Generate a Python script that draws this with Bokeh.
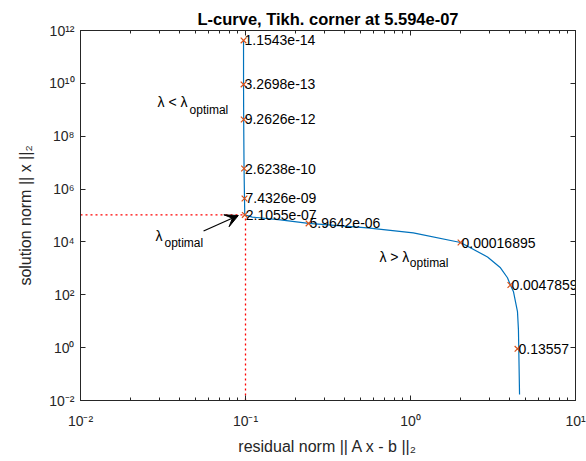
from bokeh.plotting import figure
from bokeh.models import (LogAxis, FixedTicker, CustomJSTickFormatter, Arrow,
                          VeeHead, ColumnDataSource)
from bokeh.core.properties import value
from bokeh.embed import file_html
from bokeh.resources import INLINE

# ---- data ----
curve_rho = [0.0973, 0.0973, 0.0975, 0.0980, 0.0986, 0.0990, 0.110, 0.163, 0.241,
             0.548, 1.04, 2.01, 2.93, 3.51, 3.87, 4.03, 4.21, 4.45, 4.51, 4.53, 4.58]
curve_eta = [4.2e11, 9.1e9, 4.3e8, 6.0e6, 4.4e5, 1.05e5, 8.7e4, 6.8e4, 5.0e4,
             3.4e4, 2.2e4, 9.5e3, 2.7e3, 1.05e3, 440, 235, 130, 23, 4.8, 1.0, 0.017]

mark_rho = [0.0973, 0.0973, 0.0975, 0.0980, 0.0986, 0.0990, 0.241, 2.01, 4.03, 4.45]
mark_eta = [4.2e11, 9.1e9, 4.3e8, 6.0e6, 4.4e5, 1.05e5, 5.0e4, 9.5e3, 235, 0.9]
mark_lab = ["1.1543e-14", "3.2698e-13", "9.2626e-12", "2.6238e-10", "7.4326e-09",
            "2.1055e-07", "5.9642e-06", "0.00016895", "0.0047859", "0.13557"]

corner_rho = 0.1
corner_eta = 1.05e5
reg_corner = "5.594e-07"

x_ticks = [1e-2, 1e-1, 1e0, 1e1]
x_minor = [m * d for d in (1e-2, 1e-1, 1e0) for m in range(2, 10)]
y_ticks = [1e-2, 1e0, 1e2, 1e4, 1e6, 1e8, 1e10, 1e12]

FONT = "Liberation Sans"
AXC = "#262626"

p = figure(width=586, height=461, x_axis_type="log", y_axis_type="log",
           x_range=(1e-2, 1e1), y_range=(1e-2, 1e12),
           output_backend="svg", toolbar_location=None,
           min_border_left=80, min_border_right=11, min_border_top=30,
           min_border_bottom=61,
           title="L-curve, Tikh. corner at " + reg_corner)
p.title.align = "center"
p.title.text_font = FONT
p.title.text_font_size = "16.5px"
p.title.text_font_style = "bold"
p.title.text_color = "black"
p.title.standoff = 6
p.grid.visible = False
p.outline_line_color = AXC
p.outline_line_width = 1
p.background_fill_color = "white"
p.border_fill_color = "white"

sup_code = """
const sup = {'-':'\u207b','0':'\u2070','1':'\u00b9','2':'\u00b2','3':'\u00b3','4':'\u2074',
             '5':'\u2075','6':'\u2076','7':'\u2077','8':'\u2078','9':'\u2079'};
const e = Math.round(Math.log10(tick));
return '10' + String(e).split('').map(c => sup[c]).join('');
"""
fmt = CustomJSTickFormatter(code=sup_code)
blank = CustomJSTickFormatter(code="return ''")

xa = p.xaxis[0]
ya = p.yaxis[0]
xa.ticker = FixedTicker(ticks=x_ticks, minor_ticks=x_minor)
ya.ticker = FixedTicker(ticks=y_ticks, minor_ticks=[])
xa.formatter = fmt
ya.formatter = fmt
xa.axis_label = "residual norm || A x - b ||\u2082"
ya.axis_label = "solution norm || x ||\u2082"

top = LogAxis(ticker=FixedTicker(ticks=x_ticks, minor_ticks=x_minor), formatter=blank)
right = LogAxis(ticker=FixedTicker(ticks=y_ticks, minor_ticks=[]), formatter=blank)
p.add_layout(top, "above")
p.add_layout(right, "right")

for ax in (xa, ya, top, right):
    ax.axis_line_color = AXC
    ax.major_tick_line_color = AXC
    ax.minor_tick_line_color = AXC
    ax.major_tick_in = 5
    ax.major_tick_out = 0
    ax.minor_tick_in = 3
    ax.minor_tick_out = 0
    ax.major_label_text_font = FONT
    ax.major_label_text_font_size = "14px"
    ax.major_label_text_color = AXC
    ax.axis_label_text_font = FONT
    ax.axis_label_text_font_size = "16px"
    ax.axis_label_text_font_style = "normal"
    ax.axis_label_text_color = AXC
for ax in (top, right):
    ax.major_label_standoff = 0
    ax.major_label_text_font_size = "0px"
xa.major_label_standoff = 12
ya.major_label_standoff = 6
xa.axis_label_standoff = 6
ya.axis_label_standoff = 12

# dotted corner lines
p.line([1e-2, corner_rho], [corner_eta, corner_eta], line_color="#FF0000",
       line_dash="2 3", line_width=1.3)
p.line([corner_rho, corner_rho], [1e-2, corner_eta], line_color="#FF0000",
       line_dash="2 3", line_width=1.3)

# L-curve
p.line(curve_rho, curve_eta, line_color="#0072BD", line_width=1.2)
p.scatter(mark_rho, mark_eta, marker="x", size=8, line_color="#D95319", line_width=1.2)

src = ColumnDataSource(dict(x=mark_rho, y=mark_eta, t=mark_lab))
p.text(x="x", y="y", text="t", source=src, text_font=value(FONT),
       text_font_size="14px", text_baseline="middle", text_align="left",
       text_color="black", x_offset=1)

# lambda annotations
lam_main_x = [0.0293, 0.648, 0.0285]
lam_main_y = [1.9e9, 2.7e3, 1.7e4]
lam_main_t = ["\u03bb < \u03bb", "\u03bb > \u03bb", "\u03bb"]
lam_sub_x = [0.0458, 0.99, 0.0323]
lam_sub_y = [9.5e8, 1.6e3, 9.1e3]
lam_sub_t = ["optimal", "optimal", "optimal"]
p.text(x=lam_main_x, y=lam_main_y, text=lam_main_t, text_font=value(FONT),
       text_font_size="14px", text_baseline="middle", text_align="left",
       text_color="black")
p.text(x=lam_sub_x, y=lam_sub_y, text=lam_sub_t, text_font=value(FONT),
       text_font_size="12px", text_baseline="middle", text_align="left",
       text_color="black")

# arrow to the corner
arrow_x = [0.0557, 0.0905]
arrow_y = [2.6e4, 1.0e5]
p.add_layout(Arrow(end=VeeHead(size=13, fill_color="black", line_color="black"),
                   x_start=arrow_x[0], y_start=arrow_y[0],
                   x_end=arrow_x[1], y_end=arrow_y[1],
                   line_color="black", line_width=1.2))

open("out.html", "w").write(file_html(p, INLINE))
